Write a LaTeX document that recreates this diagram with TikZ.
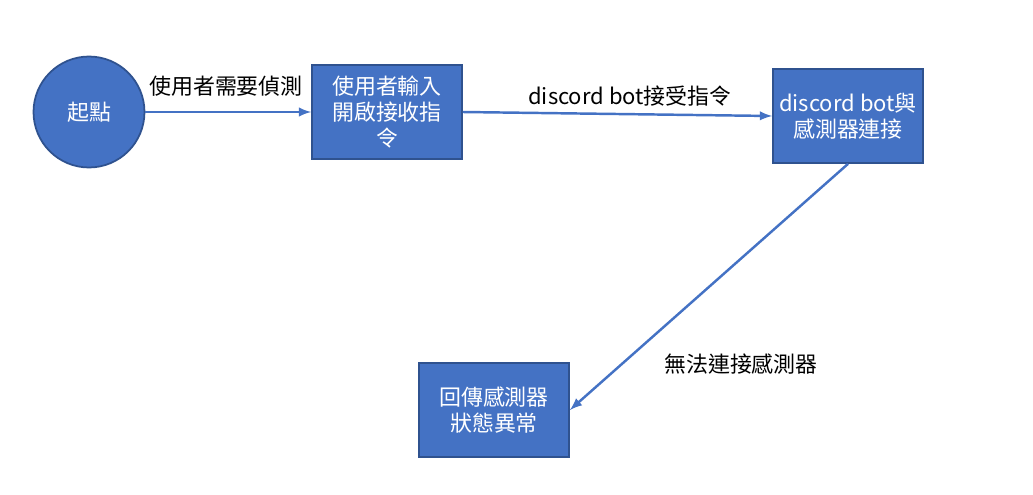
\documentclass[tikz,border=0pt]{standalone}
\usepackage{fontspec}
\setmainfont{Noto Sans CJK TC}
\usepackage{tikz}
\usetikzlibrary{arrows, shapes}
\tikzset{>=latex}
\definecolor{boxblue}{RGB}{68, 114, 196}
\definecolor{boxedge}{RGB}{47, 82, 143}
\tikzset{
	flowbox/.style = {draw = boxedge, fill = boxblue, text = white, line width = 1pt,
		minimum width = 3cm, minimum height = 1.88cm, align = center, inner sep = 2pt},
	startcircle/.style = {draw = boxedge, fill = boxblue, text = white, line width = 1pt,
		circle, minimum size = 2.22cm},
	flowarrow/.style = {boxblue, line width = 1.4pt, ->},
	edgelabel/.style = {text = black}
}

\begin{document}
\begin{tikzpicture}[x = 0.02cm, y = -0.02cm, font = \fontsize{12.5}{15}\selectfont]
\useasboundingbox (0, 0) rectangle (1033, 494);

\node[startcircle] (start) at (89, 112) {起點};
\node[flowbox] (input) at (387, 112) {使用者輸入\\開啟接收指\\令};
\node[flowbox] (connect) at (848, 116) {discord bot與\\感測器連接};
\node[flowbox] (error) at (494, 410) {回傳感測器\\狀態異常};

\draw[flowarrow] (start) -- (input);
\draw[flowarrow] (input.east) -- (connect.west);
\draw[flowarrow] (connect.south) -- (error.east);

\node[edgelabel] (need) at (226, 86) {使用者需要偵測};
\node[edgelabel] (accept) at (630, 96) {discord bot接受指令};
\node[edgelabel] (fail) at (741, 364) {無法連接感測器};

\end{tikzpicture}
\end{document}
